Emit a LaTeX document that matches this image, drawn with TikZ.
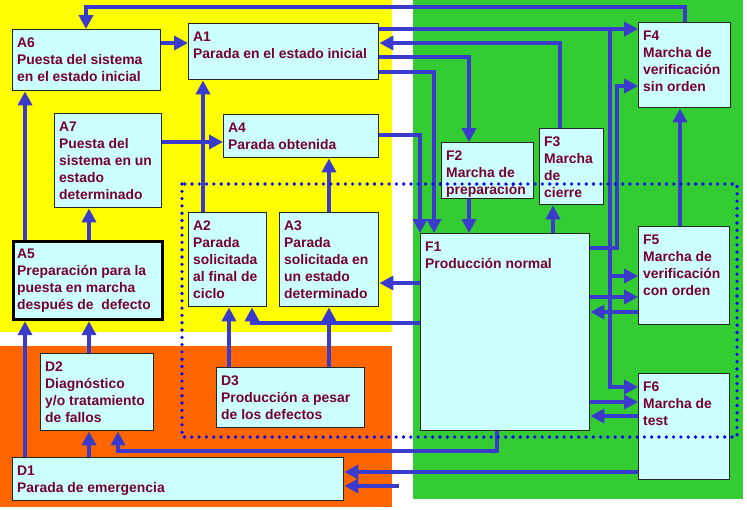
\documentclass[tikz,border=0pt]{standalone}
\usepackage{fontspec}
\setmainfont{Liberation Sans}
\usetikzlibrary{arrows.meta}
\definecolor{yel}{RGB}{255,255,0}
\definecolor{grn}{RGB}{51,204,51}
\definecolor{org}{RGB}{255,102,0}
\definecolor{boxfill}{RGB}{204,255,255}
\definecolor{txtc}{RGB}{120,0,48}
\definecolor{connc}{RGB}{58,58,204}
\definecolor{dotc}{RGB}{0,0,255}
\newcommand\gbox[7][]{%
  \node[box,#1,minimum width={#5-#3},minimum height={#6-#4}] (#2) at (#3,#4) {};
  \node[lbl] (#2t) at (#3+5,#4+7) {\rule{0pt}{11pt}#7};}
\begin{document}
\begin{tikzpicture}[x=1pt,y=-1pt,
  box/.style={draw=black!85,line width=1.4pt,fill=boxfill,inner sep=0,anchor=north west},
  lbl/.style={inner sep=0,anchor=north west,align=left,text=txtc,font=\fontsize{13.9}{17}\selectfont\bfseries},
  conn/.style={draw=connc,line width=3.8pt,-{Triangle[length=14pt,width=14pt]}},
  wire/.style={draw=connc,line width=3.8pt}]
\useasboundingbox (0,0) rectangle (747,509);
\fill[white] (0,0) rectangle (747,509);
\fill[yel] (0,0) rectangle (392,332);
\fill[org] (0,346) rectangle (392,507);
\fill[grn] (413,0) rectangle (743,499);

% boxes
\gbox{A6}{12}{29}{160}{90}{A6\\Puesta del sistema\\en el estado inicial}
\gbox{A1}{188}{23}{378}{79}{A1\\Parada en el estado inicial}
\gbox{A7}{54}{113}{161}{207}{A7\\Puesta del\\sistema en un\\estado\\determinado}
\gbox{A4}{223}{114}{378}{157}{A4\\Parada obtenida}
\gbox[draw=black,line width=3.2pt]{A5}{12}{240}{161}{318}{A5\\Preparación para la\\puesta en marcha\\después de\ \ defecto}
\gbox{A2}{188}{212}{266}{306}{A2\\Parada\\solicitada\\al final de\\ciclo}
\gbox{A3}{279}{212}{378}{306}{A3\\Parada\\solicitada en\\un estado\\determinado}
\gbox{D2}{40}{353}{153}{430}{D2\\Diagnóstico\\y/o tratamiento\\de fallos}
\gbox{D3}{216}{367}{364}{427}{D3\\Producción a pesar\\de los defectos}
\gbox{D1}{12}{457}{343}{500}{D1\\Parada de emergencia}
\gbox{F4}{638}{22}{730}{107}{F4\\Marcha de\\verificación\\sin orden}
\gbox{F2}{441}{142}{533}{198}{F2\\Marcha de\\preparación}
\gbox{F3}{539}{128}{603}{204}{F3\\Marcha\\de\\cierre}
\gbox{F1}{420}{233}{589}{430}{F1\\Producción normal}
\gbox{F5}{638}{226}{729}{324}{F5\\Marcha de\\verificación\\con orden}
\gbox{F6}{638}{373}{729}{479}{F6\\Marcha de\\test}

% junctions and free end
\coordinate (j1) at (610,29);
\coordinate (j2) at (610,276);
\coordinate (fr) at (399,486);

% connectors
\draw[conn] (F4.north -| 685,0) |- (86,7) -- (A6.north -| 86,0);
\draw[conn] (A6.east |- 0,43) -- (A1.west |- 0,43);
\draw[conn] (A1.east |- 0,29) -- (F4.west |- 0,29);
\draw[conn] (j1) |- (F6.west |- 0,387);
\draw[conn] (j2) -- (F5.west |- 0,276);
\draw[conn] (F3.north -| 560,0) |- (A1.east |- 0,43);
\draw[conn] (A1.east |- 0,57) -| (F2.north -| 469,0);
\draw[conn] (A1.east |- 0,72) -| (F1.north -| 434,0);
\draw[conn] (A4.east |- 0,135) -| (F1.north -| 420,0);
\draw[conn] (A7.east |- 0,142) -- (A4.west |- 0,142);
\draw[conn] (A2.north -| 203,0) -- (A1.south -| 203,0);
\draw[conn] (A3.north -| 329,0) -- (A4.south -| 329,0);
\draw[conn] (A5.north -| 25,0) -- (A6.south -| 25,0);
\draw[conn] (A5.north -| 89,0) -- (A7.south -| 89,0);
\draw[conn] (D1.north -| 25,0) -- (A5.south -| 25,0);
\draw[conn] (D2.north -| 89,0) -- (A5.south -| 89,0);
\draw[conn] (D1.north -| 89,0) -- (D2.south -| 89,0);
\draw[conn] (F1.south -| 497,0) |- (118,451) -- (D2.south -| 118,0);
\draw[conn] (F6.west |- 0,472) -- (D1.east |- 0,472);
\draw[conn] (fr) -- (D1.east |- 0,486);
\draw[conn] (D3.north -| 229,0) -- (A2.south -| 229,0);
\draw[conn] (D3.north -| 329,0) -- (A3.south -| 329,0);
\draw[conn] (F1.west |- 0,323) -| (A2.south -| 252,0);
\draw[conn] (F1.west |- 0,283) -- (A3.east |- 0,283);
\draw[conn] (F2.south -| 469,0) -- (F1.north -| 469,0);
\draw[conn] (F1.north -| 553,0) -- (F3.south -| 553,0);
\draw[conn] (F5.north -| 680,0) -- (F4.south -| 680,0);
\draw[conn] (F1.east |- 0,248) -| (617,86) -- (F4.west |- 0,86);
\draw[conn] (F1.east |- 0,297) -- (F5.west |- 0,297);
\draw[conn] (F5.west |- 0,312) -- (F1.east |- 0,312);
\draw[conn] (F1.east |- 0,402) -- (F6.west |- 0,402);
\draw[conn] (F6.west |- 0,416) -- (F1.east |- 0,416);

% dotted frame
\draw[dotc,line width=3.6pt,line cap=round,dash pattern=on 0pt off 7.3pt] (182,184) rectangle (737,437);
\end{tikzpicture}
\end{document}
